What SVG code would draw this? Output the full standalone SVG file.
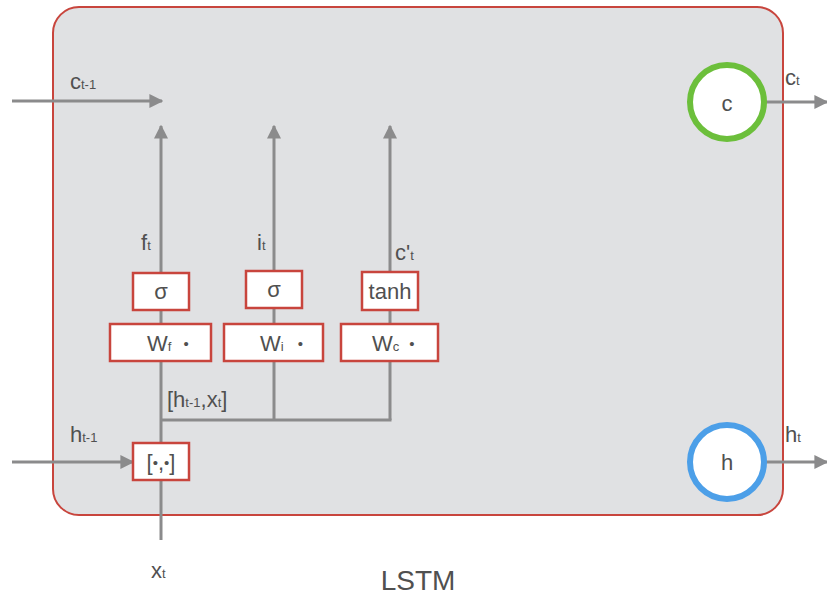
<svg xmlns="http://www.w3.org/2000/svg" width="827" height="603" viewBox="0 0 827 603">
<style>
  .ln{stroke:#8b8b8c;stroke-width:3;fill:none}
  .box{fill:#fff;stroke:#c8453d;stroke-width:2.5}
  .t{font-family:"Liberation Sans",Arial,sans-serif;fill:#505050;font-size:22px}
  .s{font-size:13px}
  .d{font-size:15px}
  .m{text-anchor:middle}
</style>
<defs>
  <marker id="ah" viewBox="0 0 10 10" refX="9" refY="5" markerWidth="14" markerHeight="14" markerUnits="userSpaceOnUse" orient="auto">
    <path d="M0,0 L10,5 L0,10 z" fill="#8b8b8c"/>
  </marker>
</defs>
<rect width="827" height="603" fill="#fff"/>
<g id="lstm">
  <rect x="53" y="7" width="730" height="508" rx="26" fill="#e0e1e3" stroke="#c8453d" stroke-width="2"/>
</g>
<g id="connectors">
  <line class="ln" x1="12" y1="101" x2="162" y2="101" marker-end="url(#ah)"/>
  <line class="ln" x1="161" y1="540" x2="161" y2="126" marker-end="url(#ah)"/>
  <line class="ln" x1="274" y1="420" x2="274" y2="126" marker-end="url(#ah)"/>
  <line class="ln" x1="390" y1="420" x2="390" y2="126" marker-end="url(#ah)"/>
  <line class="ln" x1="161" y1="420" x2="391.5" y2="420"/>
  <line class="ln" x1="12" y1="462" x2="133" y2="462" marker-end="url(#ah)"/>
  <line class="ln" x1="765" y1="102" x2="827" y2="102" marker-end="url(#ah)"/>
  <line class="ln" x1="765" y1="462" x2="827" y2="462" marker-end="url(#ah)"/>
</g>
<g id="sigma_f"><rect class="box" x="133" y="273" width="56" height="37"/><text class="t m" x="161" y="299">σ</text></g>
<g id="sigma_i"><rect class="box" x="246" y="271" width="56" height="37"/><text class="t m" x="274" y="297">σ</text></g>
<g id="tanh"><rect class="box" x="362" y="272" width="56" height="38"/><text class="t m" x="390" y="299">tanh</text></g>
<g id="Wf"><rect class="box" x="110" y="324" width="101" height="37"/><text class="t" x="147" y="351">W<tspan class="s">f</tspan><tspan class="d" dx="12" dy="-2">•</tspan></text></g>
<g id="Wi"><rect class="box" x="224" y="324" width="99" height="37"/><text class="t" x="260" y="351">W<tspan class="s">i</tspan><tspan class="d" dx="14" dy="-2">•</tspan></text></g>
<g id="Wc"><rect class="box" x="341" y="324" width="97" height="37"/><text class="t" x="372" y="351">W<tspan class="s">c</tspan><tspan class="d" dx="10" dy="-2">•</tspan></text></g>
<g id="concat"><rect class="box" x="133" y="443" width="56" height="37"/><text class="t m" x="161" y="470">[<tspan class="d" dy="-2">•</tspan><tspan dy="2">,</tspan><tspan class="d" dy="-2">•</tspan><tspan dy="2">]</tspan></text></g>
<g id="c_node"><circle cx="727" cy="102" r="37" fill="#fff" stroke="#6cbf3b" stroke-width="6"/><text class="t m" x="727" y="111">c</text></g>
<g id="h_node"><circle cx="727" cy="462" r="37" fill="#fff" stroke="#4c9fe8" stroke-width="6"/><text class="t m" x="727" y="470">h</text></g>
<g id="labels">
  <text class="t" x="70" y="89">c<tspan class="s">t-1</tspan></text>
  <text class="t" x="141" y="250">f<tspan class="s">t</tspan></text>
  <text class="t" x="257" y="250">i<tspan class="s">t</tspan></text>
  <text class="t" x="395" y="260">c'<tspan class="s">t</tspan></text>
  <text class="t" x="167" y="407">[h<tspan class="s">t-1</tspan>,x<tspan class="s">t</tspan>]</text>
  <text class="t" x="70" y="442">h<tspan class="s">t-1</tspan></text>
  <text class="t" x="785" y="85">c<tspan class="s">t</tspan></text>
  <text class="t" x="785" y="442">h<tspan class="s">t</tspan></text>
  <text class="t" x="151" y="578">x<tspan class="s">t</tspan></text>
  <text class="t m" x="418" y="590" style="font-size:28px">LSTM</text>
</g>
</svg>
